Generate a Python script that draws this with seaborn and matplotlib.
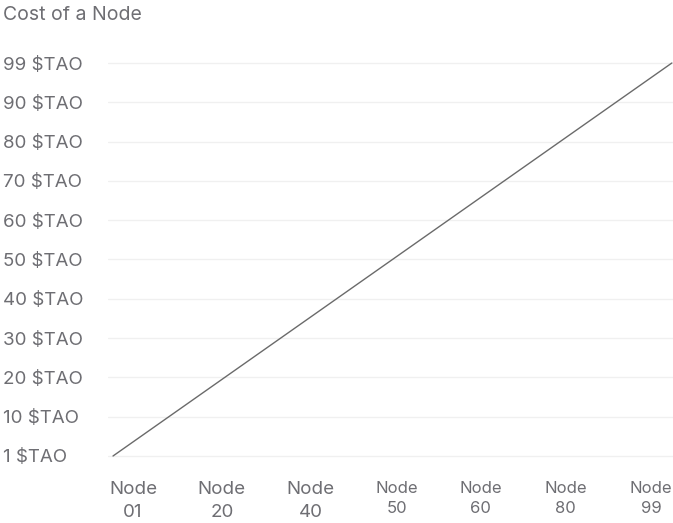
import numpy as np
import matplotlib
matplotlib.use("Agg")
import matplotlib.pyplot as plt
import seaborn as sns
import pandas as pd

# line data: node number vs cost in $TAO
nodes = [1, 99]
costs = [1, 99]

y_labels = ["1 $TAO", "10 $TAO", "20 $TAO", "30 $TAO", "40 $TAO", "50 $TAO",
            "60 $TAO", "70 $TAO", "80 $TAO", "90 $TAO", "99 $TAO"]
x_labels = ["Node\n01", "Node\n20", "Node\n40", "Node\n50", "Node\n60", "Node\n80", "Node\n99"]
x_label_sizes = [13.5, 13.5, 13.5, 12, 12, 12, 12]

sns.set_style("white")
plt.rcParams["font.family"] = ["Inter", "DejaVu Sans"]

df = pd.DataFrame({"node": nodes, "cost": costs})

fig = plt.figure(figsize=(6.73, 5.23), dpi=100)
ax = fig.add_axes([108 / 673, 63 / 523, 565 / 673, 400 / 523])

sns.lineplot(data=df, x="node", y="cost", ax=ax, color="#6a6a6a", linewidth=1.0)

ax.set_xlim(0.12, 99.2)
ax.set_ylim(0.0, 99.75)

# evenly spaced y ticks (category-like labels)
ax.set_yticks(np.linspace(1, 99, len(y_labels)))
ax.set_yticklabels(y_labels, ha="left", color="#6e6e73", fontsize=13.5)
ax.tick_params(axis="y", length=0, pad=75.5)
ax.yaxis.grid(True, color="#f0f0f0", linewidth=1.0)
ax.xaxis.grid(False)

ax.set_xticks([4.5, 20.1, 35.7, 50.8, 65.5, 80.4, 95.35])
ax.set_xticklabels(x_labels, color="#6e6e73", linespacing=1.45)
for lbl, s in zip(ax.get_xticklabels(), x_label_sizes):
    lbl.set_fontsize(s)
ax.tick_params(axis="x", length=0, pad=15)

for sp in ax.spines.values():
    sp.set_visible(False)
ax.set_xlabel("")
ax.set_ylabel("")

fig.text(3 / 673, 1 - 15 / 523, "Cost of a Node", ha="left", va="center",
         fontsize=14, color="#6e6e73")

fig.savefig("out.png", dpi=100)
